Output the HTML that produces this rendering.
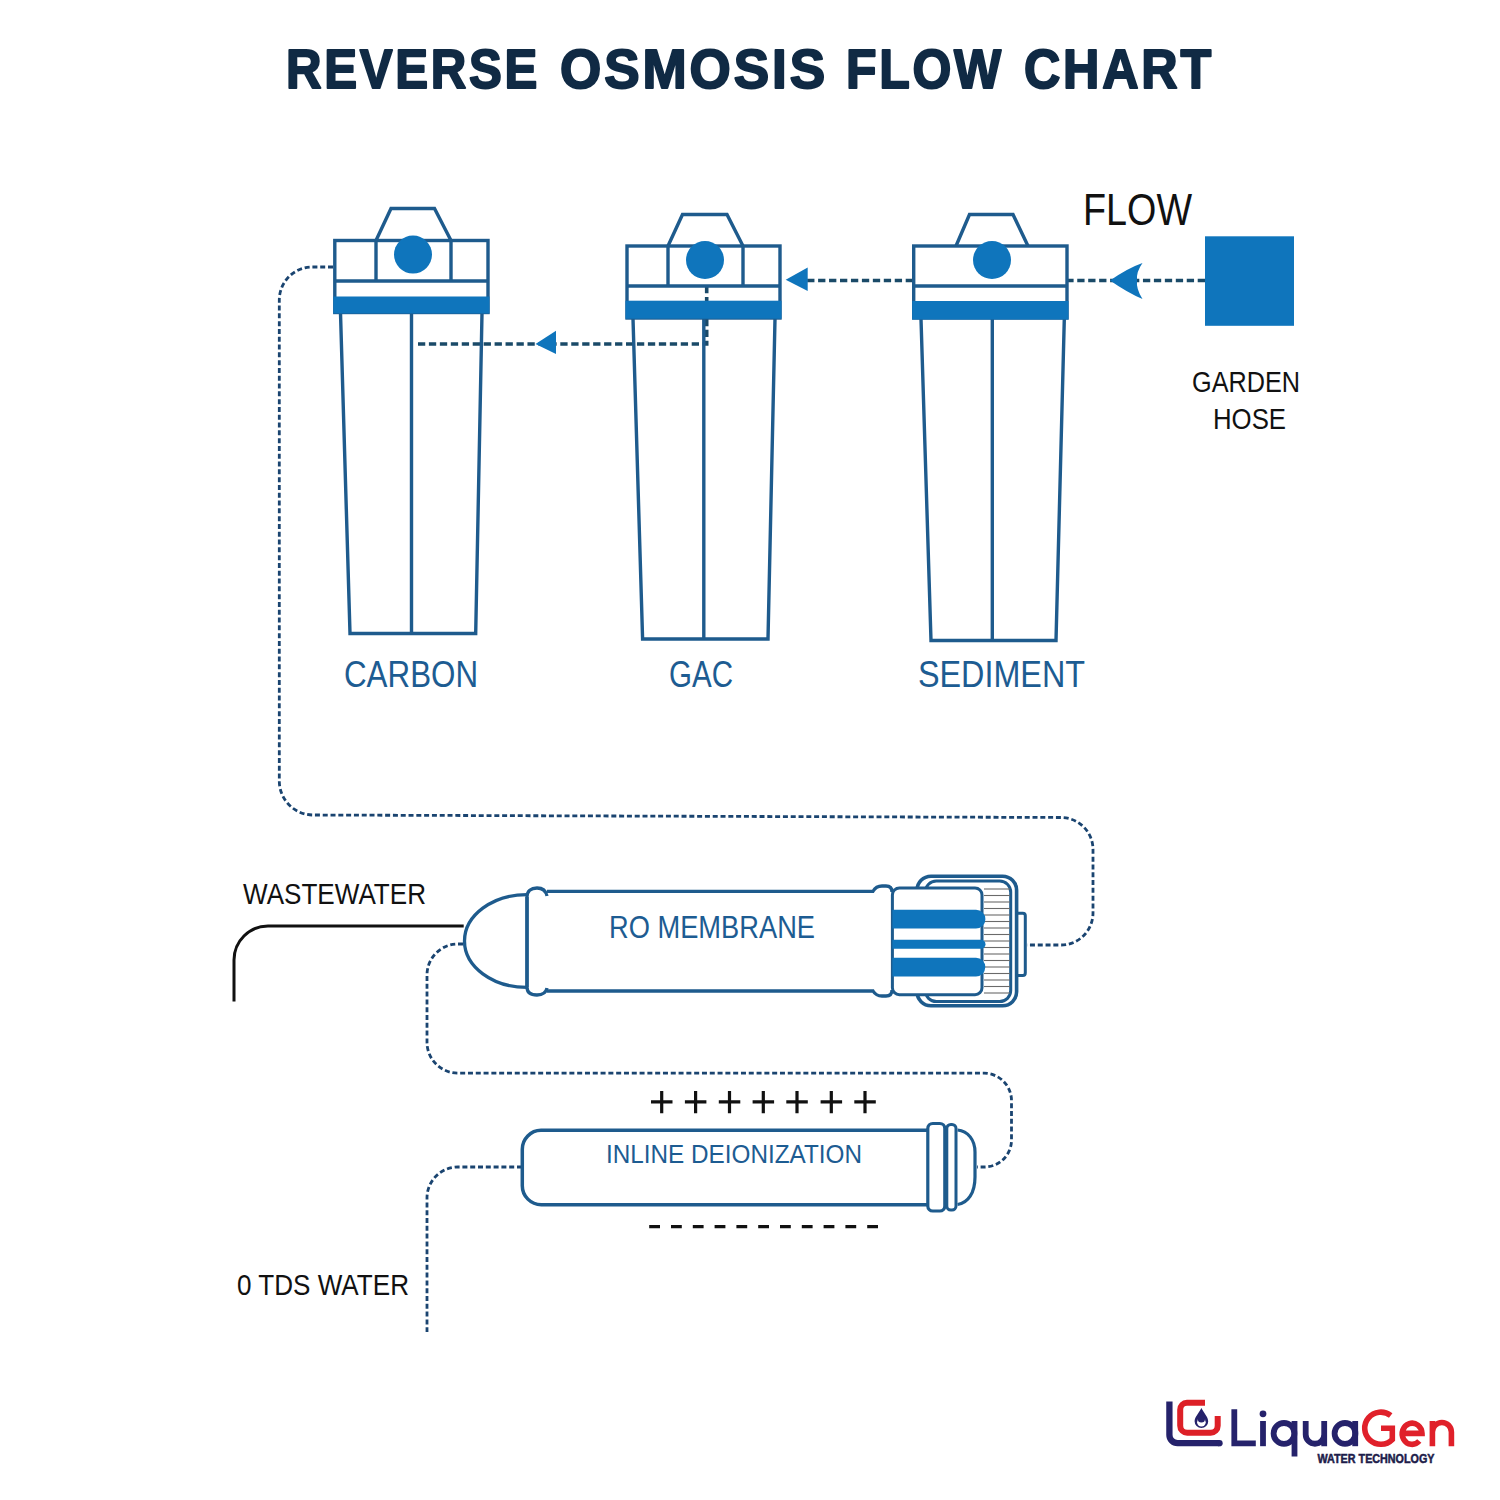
<!DOCTYPE html>
<html><head><meta charset="utf-8"><title>Reverse Osmosis Flow Chart</title>
<style>
html,body{margin:0;padding:0;background:#fff;width:1500px;height:1500px;overflow:hidden}
svg{position:absolute;left:0;top:0;display:block}
text{font-family:"Liberation Sans",sans-serif}
</style></head><body>
<svg width="1500" height="1500" viewBox="0 0 1500 1500">
<rect width="1500" height="1500" fill="#fff"/>

<!-- Title -->
<g font-size="54.6" font-weight="bold" fill="#102a44" stroke="#102a44" stroke-width="2" stroke-linejoin="round">
<text x="286" y="88" textLength="254" lengthAdjust="spacingAndGlyphs" letter-spacing="3">REVERSE</text>
<text x="560" y="88" textLength="268" lengthAdjust="spacingAndGlyphs" letter-spacing="3">OSMOSIS</text>
<text x="846" y="88" textLength="158" lengthAdjust="spacingAndGlyphs" letter-spacing="3">FLOW</text>
<text x="1024" y="88" textLength="190" lengthAdjust="spacingAndGlyphs" letter-spacing="3">CHART</text>
</g>

<!-- filter connectors -->
<g fill="none" stroke="#1a4a68" stroke-width="3.6" stroke-dasharray="7.3 3.65">
  <line x1="1205" y1="280.5" x2="1068" y2="280.5"/>
  <line x1="913" y1="280.5" x2="807" y2="280.5"/>
  <path d="M706.7,286 L706.7,344 L418,344"/>
</g>
<!-- ============ FILTERS ============ -->
<g fill="none" stroke="#1e5b8d" stroke-width="3.4" stroke-linejoin="miter">
  <!-- Carbon -->
  <path d="M376,240.5 L391,208.5 L434.5,208.5 L451,240.5"/>
  <rect x="334.8" y="240.5" width="153.2" height="72"/>
  <line x1="334.8" y1="281" x2="488" y2="281"/>
  <line x1="376" y1="240.5" x2="376" y2="281"/>
  <line x1="451" y1="240.5" x2="451" y2="281"/>
  <path d="M340.5,313 L350,633.5 L475.7,633.5 L482,313"/>
  <line x1="411.5" y1="313" x2="411.5" y2="633.5"/>
  <!-- GAC -->
  <path d="M668,246 L682.5,214.5 L727,214.5 L743,246"/>
  <rect x="627" y="246" width="153" height="72"/>
  <line x1="627" y1="286" x2="780" y2="286"/>
  <line x1="668" y1="246" x2="668" y2="286"/>
  <line x1="743" y1="246" x2="743" y2="286"/>
  <path d="M633,318.7 L642.6,639 L768,639 L775,318.7"/>
  <line x1="703.8" y1="318.7" x2="703.8" y2="639"/>
  <!-- Sediment -->
  <path d="M956,246 L969.5,214.5 L1013,214.5 L1028,246"/>
  <rect x="913.7" y="246" width="153.3" height="72"/>
  <line x1="913.7" y1="286" x2="1067" y2="286"/>
  <path d="M921,319 L931,640.5 L1056,640.5 L1064.3,319"/>
  <line x1="992.3" y1="319" x2="992.3" y2="640.5"/>
</g>
<g fill="#0f75bc">
  <rect x="333.3" y="296.5" width="156.2" height="17"/>
  <circle cx="413" cy="254.6" r="19"/>
  <rect x="625.5" y="300.7" width="156" height="18"/>
  <circle cx="705" cy="260" r="19"/>
  <rect x="912.2" y="301" width="156.3" height="18.5"/>
  <circle cx="992" cy="260" r="19"/>
  <!-- garden hose -->
  <rect x="1205" y="236.3" width="89" height="89.5"/>
  <!-- arrows -->
  <path d="M1110,280.5 Q1128,268 1142.5,263 Q1136,272 1137,280.5 Q1136,289 1142.5,299 Q1128,293 1110,280.5 Z"/>
  <path d="M785.7,279.7 L807.7,267.5 L807.7,291 Z"/>
  <path d="M535.5,344 L556,330.7 L556,354 Z"/>
</g>

<!-- labels -->
<g fill="#1d5c92">
  <text x="344" y="687.2" font-size="37.5" textLength="134" lengthAdjust="spacingAndGlyphs">CARBON</text>
  <text x="669" y="687.4" font-size="37.5" textLength="64" lengthAdjust="spacingAndGlyphs">GAC</text>
  <text x="918" y="687.3" font-size="37.5" textLength="167" lengthAdjust="spacingAndGlyphs">SEDIMENT</text>
</g>
<g fill="#111">
  <text x="1083" y="224.7" font-size="44.6" textLength="109" lengthAdjust="spacingAndGlyphs">FLOW</text>
  <text x="1192" y="391.5" font-size="30.2" textLength="108" lengthAdjust="spacingAndGlyphs">GARDEN</text>
  <text x="1213" y="428.7" font-size="30.2" textLength="73" lengthAdjust="spacingAndGlyphs">HOSE</text>
</g>

<!-- ============ LONG DASHED PATHS ============ -->
<g fill="none" stroke="#1a4470" stroke-width="2.8" stroke-dasharray="5 2.8">
  <path d="M333,267 L312.3,267 A33,33 0 0 0 279.3,300 L279.3,781 A34,34 0 0 0 313.3,815 L1061,817.5 A32,32 0 0 1 1093,849.5 L1093,913 A32,32 0 0 1 1061,945 L1027,945"/>
  <path d="M463,944 L458,944 A31,31 0 0 0 427,975 L427,1042 A31,31 0 0 0 458,1073.2 L984,1073.2 A27.5,27.5 0 0 1 1011.5,1100.7 L1011.5,1140 A27,27 0 0 1 984.5,1167 L977,1167"/>
  <path d="M522,1167 L458,1167 A31,31 0 0 0 427,1198 L427,1332"/>
</g>
<!-- wastewater black line -->
<path d="M463.7,926 L268,926 A34,34 0 0 0 234,960 L234,1001.6" fill="none" stroke="#111" stroke-width="3"/>

<!-- ============ RO MEMBRANE ============ -->
<g fill="none" stroke="#1e5b8d" stroke-width="3.3">
  <!-- dome -->
  <path d="M527,894.6 A62.5,46.4 0 0 0 527,987.4"/>
  <!-- collar left -->
  <path d="M527,987 L527,897 C527,891 531,888 537,888 C543,888 546,891 547,896"/>
  <path d="M527,897 L527,987 C527,993 531,995 537,995 C543,995 546,993 547,988"/>
  <!-- tube -->
  <path d="M547,891.3 L873,891.3 Q876,886 882,886 L886,886 Q892,886 892,892"/>
  <path d="M547,991 L873,991 Q876,996 882,996 L886,996 Q892,996 892,990"/>
</g>
<text x="609" y="937.6" font-size="31.7" fill="#1d5c92" textLength="206" lengthAdjust="spacingAndGlyphs">RO MEMBRANE</text>

<!-- end cap -->
<g fill="none" stroke="#1e5b8d">
  <rect x="917" y="876.2" width="99.6" height="129.6" rx="14" stroke-width="3.6"/>
  <rect x="925.3" y="881" width="85.4" height="120.6" rx="11" stroke-width="3"/>
  <path d="M1017,913.2 H1022.8 Q1025.3,913.2 1025.3,915.7 V973 Q1025.3,975.5 1022.8,975.5 H1017" stroke-width="3"/>
</g>
<g stroke="#6a6a6a" stroke-width="1.1">
  <line x1="984" y1="889" x2="1010" y2="889"/>
  <line x1="984" y1="895.5" x2="1010" y2="895.5"/>
  <line x1="984" y1="902" x2="1010" y2="902"/>
  <line x1="984" y1="908.5" x2="1010" y2="908.5"/>
  <line x1="984" y1="915" x2="1010" y2="915"/>
  <line x1="984" y1="921.5" x2="1010" y2="921.5"/>
  <line x1="984" y1="928" x2="1010" y2="928"/>
  <line x1="984" y1="934.5" x2="1010" y2="934.5"/>
  <line x1="984" y1="941" x2="1010" y2="941"/>
  <line x1="984" y1="947.5" x2="1010" y2="947.5"/>
  <line x1="984" y1="954" x2="1010" y2="954"/>
  <line x1="984" y1="960.5" x2="1010" y2="960.5"/>
  <line x1="984" y1="967" x2="1010" y2="967"/>
  <line x1="984" y1="973.5" x2="1010" y2="973.5"/>
  <line x1="984" y1="980" x2="1010" y2="980"/>
  <line x1="984" y1="986.5" x2="1010" y2="986.5"/>
  <line x1="984" y1="993" x2="1010" y2="993"/>
</g>
<rect x="892.4" y="888" width="89.6" height="106.7" rx="7" fill="#fff" stroke="#1e5b8d" stroke-width="3"/>
<g fill="#0f75bc">
  <path d="M892.4,909.8 H976 A9.4,9.4 0 0 1 976,928.6 H892.4 Z"/>
  <path d="M892.4,939.8 H981 A4.5,4.5 0 0 1 981,948.8 H892.4 Z"/>
  <path d="M892.4,957.8 H976 A9.3,9.3 0 0 1 976,976.4 H892.4 Z"/>
</g>

<!-- ============ INLINE DEIONIZATION ============ -->
<g fill="none" stroke="#1e5b8d" stroke-width="3.5">
  <path d="M927.8,1130.3 L541,1130.3 A19,19 0 0 0 522.3,1149.3 L522.3,1185.7 A19,19 0 0 0 541.3,1204.7 L927.8,1204.7"/>
  <rect x="927.8" y="1123.5" width="17" height="87.5" rx="5" stroke-width="3.2"/>
  <rect x="946.8" y="1124.5" width="9.2" height="85.5" rx="4" stroke-width="3"/>
  <path d="M957.6,1130 C968,1131 975,1140 975,1152 L975,1177 C975,1193 968,1203 957.6,1204.5" stroke-width="3.2"/>
</g>
<text x="606" y="1162.9" font-size="26.7" fill="#1d5c92" textLength="256" lengthAdjust="spacingAndGlyphs">INLINE DEIONIZATION</text>
<g stroke="#111" stroke-width="3.2">
  <path d="M651,1101.8 H672.5 M661.7,1091 V1113.3"/>
  <path d="M684.9,1101.8 H706.4 M695.6,1091 V1113.3"/>
  <path d="M718.8,1101.8 H740.3 M729.5,1091 V1113.3"/>
  <path d="M752.6,1101.8 H774.1 M763.3,1091 V1113.3"/>
  <path d="M786.3,1101.8 H807.8 M797,1091 V1113.3"/>
  <path d="M820.6,1101.8 H842.1 M831.3,1091 V1113.3"/>
  <path d="M854.3,1101.8 H875.8 M865,1091 V1113.3"/>
  <path d="M649.2,1226.7 H878" stroke-dasharray="10.8 11"/>
</g>

<!-- black labels -->
<g fill="#111">
  <text x="243" y="904.4" font-size="29.6" textLength="183" lengthAdjust="spacingAndGlyphs">WASTEWATER</text>
  <text x="237" y="1295.3" font-size="29.8" textLength="172" lengthAdjust="spacingAndGlyphs">0 TDS WATER</text>
</g>

<!-- ============ LOGO ============ -->
<g fill="none" stroke-linecap="butt">
  <path d="M1169.4,1401.5 L1169.4,1435 A8.2,8.2 0 0 0 1177.6,1443.2 L1219.5,1443.2" stroke="#25226b" stroke-width="6.3"/><circle cx="1219.5" cy="1443.2" r="3.15" fill="#25226b"/>
  <path d="M1205,1402.8 L1187,1402.8 A7,7 0 0 0 1180.2,1409.8 L1180.2,1425.8 A7,7 0 0 0 1187.2,1432.8 L1210.7,1432.8 A7,7 0 0 0 1217.7,1425.8 L1217.7,1416" stroke="#dd2027" stroke-width="6"/>
</g>
<path d="M1201.4,1408 C1199,1413 1194.6,1417 1194.6,1421.3 A6.8,6.8 0 0 0 1208.2,1421.3 C1208.2,1417 1203.8,1413 1201.4,1408 Z" fill="#25226b"/>
<circle cx="1201.4" cy="1422.3" r="4.3" fill="#fff"/>
<path d="M1201.4,1410 C1199.6,1413.5 1197.8,1416 1197.8,1419 A3.6,3.6 0 0 0 1205,1419 C1205,1416 1203.2,1413.5 1201.4,1410 Z" fill="#25226b"/>
<g fill="none" stroke="#25226b" stroke-width="5.8">
  <path d="M1234.3,1409.3 L1234.3,1443.3 L1255.8,1443.3"/>
  <path d="M1263,1421 L1263,1446.2"/>
  <circle cx="1284" cy="1433.4" r="10.4"/>
  <path d="M1294.5,1421 L1294.5,1456.5"/>
  <path d="M1305.7,1421 L1305.7,1434.5 A9.25,9.25 0 0 0 1324.2,1434.5 M1324.2,1421 L1324.2,1446.2"/>
  <circle cx="1345" cy="1433.4" r="10.4"/>
  <path d="M1355.2,1421 L1355.2,1446.2"/>
</g>
<circle cx="1263" cy="1413.8" r="3.4" fill="#25226b"/>
<g fill="none" stroke="#e0202a" stroke-width="5.6">
  <path d="M1390.7,1415.5 A16.1,16.1 0 1 0 1392.3,1439.5 L1392.3,1428.2 L1381,1428.2"/>
  <path d="M1402.6,1433.4 L1422,1433.4 A9.9,10.6 0 1 0 1419.3,1441"/>
  <path d="M1432.4,1421 L1432.4,1446.2 M1432.4,1432 A9.5,9.5 0 0 1 1451.4,1432 L1451.4,1446.2"/>
</g>
<text x="1317.5" y="1462.7" font-size="12" font-weight="bold" fill="#1d1c4a" stroke="#1d1c4a" stroke-width="0.5" textLength="117" lengthAdjust="spacingAndGlyphs">WATER TECHNOLOGY</text>

</svg>
</body></html>
